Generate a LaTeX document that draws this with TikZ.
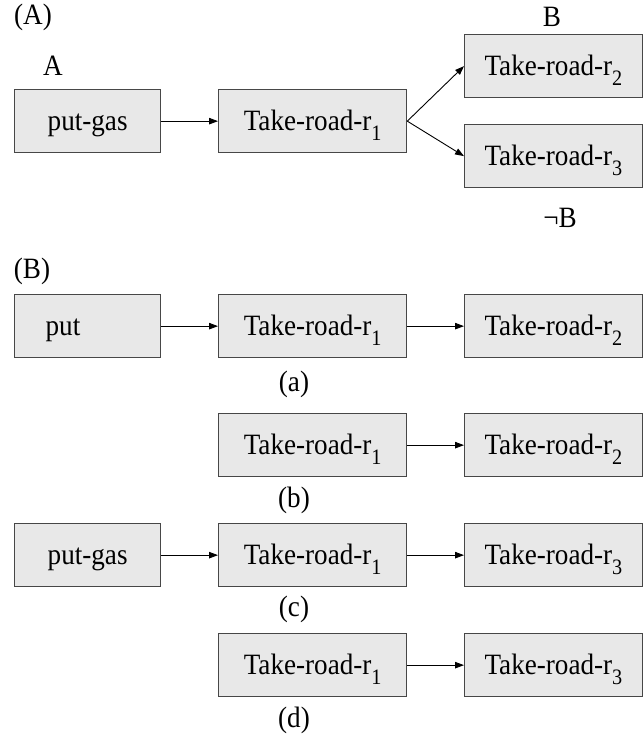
\documentclass[tikz,border=0pt]{standalone}
\usepackage{fontspec}
\setmainfont{Liberation Serif}[FakeStretch=0.92]
\usetikzlibrary{arrows.meta}
\newcommand{\subn}[1]{\raisebox{-9.5pt}{\fontsize{22}{22}\selectfont #1}}
\begin{document}
\begin{tikzpicture}[x=1pt,y=-1pt,
  box/.style={draw=black!72, line width=1.3pt, fill=black!9, minimum height=63pt,
    inner sep=0pt, anchor=north west, text height=19pt, text depth=0pt,
    font=\fontsize{29.5}{34}\selectfont},
  wsmall/.style={minimum width=146pt},
  wmid/.style={minimum width=188pt},
  wbig/.style={minimum width=177.5pt},
  lbl/.style={font=\fontsize{29.5}{34}\selectfont, inner sep=0pt},
  arr/.style={-{Triangle[length=9pt,width=6.5pt]}, line width=0.9pt}]
\useasboundingbox (0,0) rectangle (643,738);

% ---------- (A) ----------
\node[lbl] (labA) at (33,17) {(A)};
\node[lbl] (la) at (53,66) {A};
\node[lbl] (lb) at (552,17) {B};
\node[lbl] (lnb) at (560,218) {¬B};

\node[box,wsmall] (pg) at (14,89) {put-gas};
\node[box,wmid] (r1A) at (218,89) {Take-road-r\subn{1}};
\node[box,wbig] (r2A) at (464,34) {Take-road-r\subn{2}};
\node[box,wbig] (r3A) at (464,124) {Take-road-r\subn{3}};
\draw[arr] (pg.east) -- (r1A.west);
\draw[arr] (r1A.east) -- (r2A.west);
\draw[arr] (r1A.east) -- (r3A.west);

% ---------- (B) ----------
\node[lbl] (labB) at (32,271) {(B)};

% (a)
\node[box, text width=84pt, align=left, inner xsep=31pt] (pa) at (14,294) {put};
\node[box,wmid] (r1a) at (218,294) {Take-road-r\subn{1}};
\node[box,wbig] (r2a) at (464,294) {Take-road-r\subn{2}};
\draw[arr] (pa.east) -- (r1a.west);
\draw[arr] (r1a.east) -- (r2a.west);
\node[lbl] (capa) at (294,384) {(a)};

% (b)
\node[box,wmid] (r1b) at (218,413) {Take-road-r\subn{1}};
\node[box,wbig] (r2b) at (464,413) {Take-road-r\subn{2}};
\draw[arr] (r1b.east) -- (r2b.west);
\node[lbl] (capb) at (294,500) {(b)};

% (c)
\node[box,wsmall] (pc) at (14,523) {put-gas};
\node[box,wmid] (r1c) at (218,523) {Take-road-r\subn{1}};
\node[box,wbig] (r3c) at (464,523) {Take-road-r\subn{3}};
\draw[arr] (pc.east) -- (r1c.west);
\draw[arr] (r1c.east) -- (r3c.west);
\node[lbl] (capc) at (294,609) {(c)};

% (d)
\node[box,wmid] (r1d) at (218,633) {Take-road-r\subn{1}};
\node[box,wbig] (r3d) at (464,633) {Take-road-r\subn{3}};
\draw[arr] (r1d.east) -- (r3d.west);
\node[lbl] (capd) at (294,720) {(d)};
\end{tikzpicture}
\end{document}
